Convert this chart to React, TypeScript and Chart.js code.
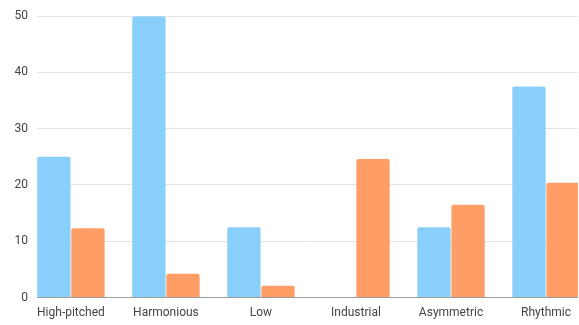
import React, { useEffect, useRef } from "react";
import { Chart, registerables } from "chart.js";

Chart.register(...registerables);

const categories = ["High-pitched", "Harmonious", "Low", "Industrial", "Asymmetric", "Rhythmic"];
const blueValues = [25, 50, 12.5, 0, 12.5, 37.5];
const orangeValues = [12.3, 4.2, 2.1, 24.6, 16.5, 20.4];
const yTicks = [0, 10, 20, 30, 40, 50];

const BLUE = "#88D0FB";
const ORANGE = "#FF9D66";

export default function App() {
  const ref = useRef<HTMLCanvasElement | null>(null);

  useEffect(() => {
    if (!ref.current) return;
    const chart = new Chart(ref.current, {
      type: "bar",
      data: {
        datasets: [
          {
            label: "A",
            data: categories.map((_, i) => ({ x: i, y: blueValues[i] })),
            backgroundColor: BLUE,
            borderRadius: 2,
            borderSkipped: "start",
            categoryPercentage: 0.717,
            barPercentage: 0.978,
          },
          {
            label: "B",
            data: categories.map((_, i) => ({ x: i, y: orangeValues[i] })),
            backgroundColor: ORANGE,
            borderRadius: 2,
            borderSkipped: "start",
            categoryPercentage: 0.717,
            barPercentage: 0.978,
          },
        ],
      },
      options: {
        animation: false,
        responsive: false,
        maintainAspectRatio: false,
        layout: { padding: { top: 14, left: 0, right: 0, bottom: 0 } },
        plugins: { legend: { display: false }, tooltip: { enabled: false } },
        scales: {
          x: {
            type: "linear",
            min: -0.357,
            max: 5.336,
            offset: false,
            grid: { display: false, drawTicks: false },
            border: { display: true, color: "#9e9e9e", width: 1 },
            afterBuildTicks: (scale: any) => {
              scale.ticks = categories.map((_, i) => ({ value: i }));
            },
            afterFit: (scale: any) => {
              scale.height = 27.5;
            },
            ticks: {
              autoSkip: false,
              maxRotation: 0,
              padding: 8,
              color: "#444",
              font: { family: "Roboto", size: 12 },
              callback: (v: any) => categories[Math.round(Number(v))] ?? "",
            },
          },
          y: {
            min: 0,
            max: 50,
            afterBuildTicks: (scale: any) => {
              scale.ticks = yTicks.map((v) => ({ value: v }));
            },
            afterFit: (scale: any) => {
              scale.width = 37;
            },
            grid: { color: "#e3e3e3", drawTicks: false, lineWidth: 1 },
            border: { display: false },
            ticks: {
              padding: 9,
              color: "#444",
              font: { family: "Roboto", size: 12 },
            },
          },
        },
      },
    });
    return () => chart.destroy();
  }, []);

  return (
    <div style={{ position: "fixed", left: 0, top: 0, width: 579, height: 325, overflow: "hidden", background: "#fff" }}>
      <canvas ref={ref} width={579} height={325} style={{ display: "block" }} />
    </div>
  );
}
